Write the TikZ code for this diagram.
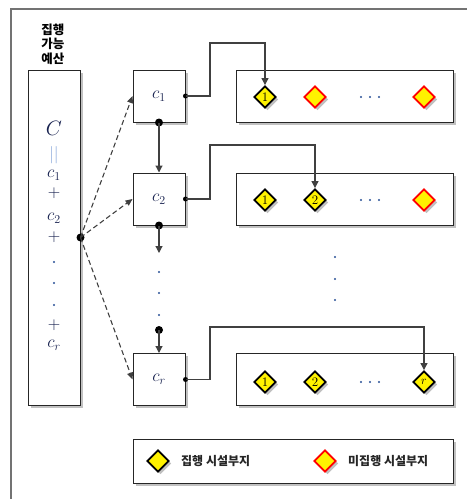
\documentclass[tikz,border=0pt]{standalone}
\usepackage{fontspec}
\newfontfamily\kr{Noto Sans CJK KR}
\usetikzlibrary{shapes.geometric,arrows.meta,shadows}
\definecolor{mblue}{RGB}{22,32,78}
\definecolor{lblue}{RGB}{140,170,220}
\definecolor{linegray}{RGB}{64,64,64}
\definecolor{dotblue}{RGB}{40,80,150}
\begin{document}
\begin{tikzpicture}[x=1pt,y=-1pt,
  shad/.style={drop shadow={shadow xshift=2.5pt,shadow yshift=-2.5pt,opacity=0.35,fill=black!70}},
  box/.style={draw=black!85,line width=1pt,fill=white,shad,inner sep=0pt},
  cbox/.style={box,minimum width=52pt,minimum height=52pt,text=mblue,font=\fontsize{17}{20}\selectfont},
  rbox/.style={box,minimum width=217pt,minimum height=52pt},
  dia/.style={diamond,minimum size=22pt,inner sep=0pt,fill=yellow,line width=1.9pt,shad,font=\rmfamily\fontsize{13}{15}\selectfont},
  done/.style={dia,draw=black},
  todo/.style={dia,draw=red},
  tri/.style={-{Triangle[length=7pt,width=7pt]}},
  conn/.style={draw=linegray,line width=1.2pt,tri},
  dashconn/.style={draw=linegray,line width=1.1pt,dash pattern=on 5pt off 3pt,-{Triangle[length=7pt,width=6pt]}},
  coltext/.style={text=mblue,inner sep=0pt,font=\fontsize{17}{20}\selectfont},
  kor/.style={font=\kr\bfseries\fontsize{12}{14}\selectfont,text=black!85,inner sep=0pt},
  smalldot/.style={fill=dotblue}
]
\useasboundingbox (0,0) rectangle (467,499);
% frame
\draw[line width=2pt,draw=black!55] (11,499) -- (11,9) -- (467,9);

% header
\node[kor,align=center,font=\kr\bfseries\fontsize{12.5}{14.5}\selectfont,text=black] (hdr) at (53,44) {집행\\가능\\예산};

% budget column
\node[box,minimum width=52pt,minimum height=335pt] (budget) at (54,237.5) {};
\node[coltext,font=\fontsize{22}{24}\selectfont] (tC) at (54,128) {$C$};
\node[coltext,text=lblue] (teq) at (54,155) {$||$};
\node[coltext] (tc1) at (54,175) {$c_1$};
\node[coltext] (tp1) at (54,193) {$+$};
\node[coltext] (tc2) at (54,218) {$c_2$};
\node[coltext] (tp2) at (54,237) {$+$};
\fill[smalldot] (54,262) circle (1.1pt) (54,283) circle (1.1pt) (54,305) circle (1.1pt);
\node[coltext] (tp3) at (54,325) {$+$};
\node[coltext] (tcr) at (54,345) {$c_r$};

% c boxes
\node[cbox] (c1) at (159,96) {$c_1$};
\node[cbox] (c2) at (159,199) {$c_2$};
\node[cbox] (cr) at (159,379.5) {$c_r$};

% right boxes
\node[rbox] (r1) at (344.5,96) {};
\node[rbox] (r2) at (344.5,199) {};
\node[rbox] (r3) at (344.5,379.5) {};

% diamonds row 1
\node[done] (d11) at (265,97) {1};
\node[todo] (d12) at (315,97) {};
\node[todo] (d1r) at (424,97) {};
% row 2
\node[done] (d21) at (265,200) {1};
\node[done] (d22) at (315,200) {2};
\node[todo] (d2r) at (424,200) {};
% row 3
\node[done] (d31) at (265,382) {1};
\node[done] (d32) at (315,382) {2};
\node[done] (d3r) at (424,382) {$r$};

% ellipsis dots inside boxes
\foreach \yy in {97,200,382}{
  \fill[smalldot] (361,\yy) circle (1.1pt) (370,\yy) circle (1.1pt) (379,\yy) circle (1.1pt);
}
% vertical ellipsis between boxes (right)
\fill[smalldot] (335,257) circle (1.1pt) (335,279) circle (1.1pt) (335,300) circle (1.1pt);

% connectors c -> diamonds
\coordinate (k1) at (210,43);
\coordinate (k2) at (210,145);
\coordinate (k3) at (210,327);
\fill (c1.east) circle (2.5pt);
\fill (c2.east) circle (2.5pt);
\fill (cr.east) circle (2.5pt);
\draw[conn] (c1.east) -| (k1) -| (d11.north);
\draw[conn] (c2.east) -| (k2) -| (d22.north);
\draw[conn] (cr.east) -| (k3) -| (d3r.north);

% vertical chain
\coordinate (a2) at (159,253);
\coordinate (b2) at (159,330);
\fill (c1.south) circle (4pt);
\fill (c2.south) circle (4pt);
\fill (b2) circle (4pt);
\draw[conn] (c1.south) -- (c2.north);
\draw[conn] (c2.south) -- (a2);
\fill[smalldot] (159,272) circle (1.1pt) (159,293) circle (1.1pt) (159,315) circle (1.1pt);
\draw[conn] (b2) -- (cr.north);

% dashed arrows from budget
\fill (budget.east) circle (4pt);
\draw[dashconn] (budget.east) -- (c1.west);
\draw[dashconn] (budget.east) -- (c2.west);
\draw[dashconn] (budget.east) -- (cr.west);

% legend
\node[box,minimum width=320pt,minimum height=44pt] (leg) at (293,461) {};
\node[done] (ld1) at (158,461) {};
\node[kor,anchor=west] (lt1) at (181,461) {집행 시설부지};
\node[todo] (ld2) at (325,461) {};
\node[kor,anchor=west] (lt2) at (348,461) {미집행 시설부지};
\end{tikzpicture}
\end{document}
